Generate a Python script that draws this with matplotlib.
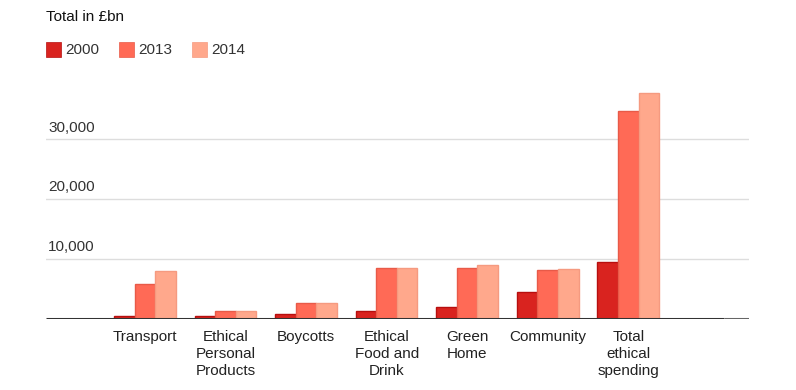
import matplotlib.pyplot as plt
import numpy as np

plt.rcParams['font.family'] = ['Liberation Sans', 'DejaVu Sans']

categories = ['Transport', 'Ethical\nPersonal\nProducts', 'Boycotts',
              'Ethical\nFood and\nDrink', 'Green\nHome', 'Community',
              'Total\nethical\nspending']
years = ['2000', '2013', '2014']
v2000 = [400, 400, 870, 1250, 1920, 4470, 9420]
v2013 = [5750, 1250, 2580, 8530, 8530, 8130, 34800]
v2014 = [7900, 1250, 2580, 8530, 8920, 8300, 37750]
yticks = [10000, 20000, 30000]

fills = ['#d9231f', '#ff6a56', '#ffa88c']
edges = ['#b70f0f', '#e85a48', '#f59a80']

fig = plt.figure(figsize=(7.96, 3.9), dpi=100)
ax = fig.add_axes([0.0578, 0.1828, 0.8832, 0.6133])

index = np.arange(len(categories))
bw = 0.255
for i, vals in enumerate([v2000, v2013, v2014]):
    ax.bar(index + (i - 1) * bw, vals, bw, color=fills[i], edgecolor=edges[i],
           linewidth=1, zorder=3)

ax.set_xlim(-1.23, 7.5)
ax.set_ylim(0, 40000)

for t in yticks:
    ax.axhline(t, color='#dddddd', linewidth=1, zorder=1)
    ax.text(0.003, t + 800, f'{t:,}', transform=ax.get_yaxis_transform(),
            fontsize=11, color='#333333', ha='left', va='bottom')

# baseline: dark part then lighter tail
ax.plot([-1.23, 7.19], [0, 0], color='#333333', linewidth=2.2, zorder=4,
        solid_capstyle='butt')
ax.plot([7.19, 7.5], [0, 0], color='#666666', linewidth=2.2, zorder=4,
        solid_capstyle='butt')

for sp in ax.spines.values():
    sp.set_visible(False)
ax.set_yticks([])
ax.set_xticks(index)
ax.set_xticklabels(categories, fontsize=11, color='#222222', linespacing=1.3)
ax.tick_params(axis='x', length=0, pad=8)

fig.text(46 / 796, 1 - 17 / 390, 'Total in £bn', fontsize=11, color='#111111',
         ha='left', va='center')

# legend
lx = [46, 119, 192]
for i, y in enumerate(years):
    fig.patches.append(plt.Rectangle((lx[i] / 796, 1 - 57 / 390), 15 / 796, 15 / 390,
                                     transform=fig.transFigure, facecolor=fills[i],
                                     edgecolor=edges[i], linewidth=0.5))
    fig.text((lx[i] + 19) / 796, 1 - 50 / 390, y, fontsize=11, color='#333333',
             ha='left', va='center')

fig.savefig('out.png', dpi=100)
